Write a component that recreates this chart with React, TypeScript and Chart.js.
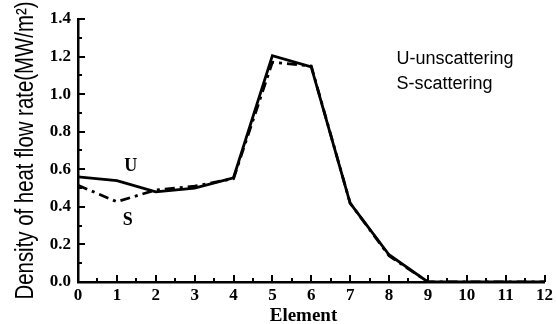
import React, { useEffect, useRef } from "react";
import { Chart, registerables } from "chart.js";

Chart.register(...registerables);

const elements = [0, 1, 2, 3, 4, 5, 6, 7, 8, 9, 10, 11, 12];
const unscattering = [0.56, 0.54, 0.48, 0.50, 0.555, 1.205, 1.145, 0.42, 0.145, 0.0, 0.0, 0.0, 0.0];
const scattering = [0.515, 0.427, 0.49, 0.51, 0.55, 1.17, 1.15, 0.42, 0.14, 0.0, 0.0, 0.0, 0.0];
const yTicks = [0, 0.2, 0.4, 0.6, 0.8, 1.0, 1.2, 1.4];
const xTitle = "Element";
const yTitle = "Density of heat flow rate(MW/m²)";
const legendLines = ["U-unscattering", "S-scattering"];
const curveLabels = ["U", "S"];

const tickPlugin = {
  id: "innerTicks",
  afterDraw(chart: any) {
    const ctx = chart.ctx;
    const xs = chart.scales.x;
    const ys = chart.scales.y;
    const area = chart.chartArea;
    ctx.save();
    ctx.setLineDash([]);
    ctx.lineDashOffset = 0;
    ctx.globalAlpha = 1;
    ctx.strokeStyle = "#000000";
    ctx.lineWidth = 2;
    ctx.lineCap = "butt";
    for (let i = 0; i <= 24; i++) {
      const v = i * 0.5;
      const px = Math.round(xs.getPixelForValue(v));
      const len = i % 2 === 0 ? 7 : 4;
      ctx.beginPath();
      ctx.moveTo(px, area.bottom);
      ctx.lineTo(px, area.bottom - len);
      ctx.stroke();
    }
    for (let i = 0; i <= 14; i++) {
      const v = i * 0.1;
      const py = Math.round(ys.getPixelForValue(v));
      const len = i % 2 === 0 ? 7 : 4;
      ctx.beginPath();
      ctx.moveTo(area.left, py);
      ctx.lineTo(area.left + len, py);
      ctx.stroke();
    }
    ctx.fillStyle = "#000";
    ctx.font = "bold 18px 'Liberation Serif'";
    ctx.textAlign = "center";
    ctx.textBaseline = "middle";
    ctx.fillText(curveLabels[0], xs.getPixelForValue(1.356), ys.getPixelForValue(0.614));
    ctx.fillText(curveLabels[1], xs.getPixelForValue(1.28), ys.getPixelForValue(0.33));
    ctx.font = "18px 'Liberation Sans'";
    ctx.textAlign = "left";
    ctx.textBaseline = "alphabetic";
    ctx.fillText(legendLines[0], xs.getPixelForValue(8.19), ys.getPixelForValue(1.16));
    ctx.fillText(legendLines[1], xs.getPixelForValue(8.19), ys.getPixelForValue(1.027));
    ctx.font = "bold 19px 'Liberation Serif'";
    ctx.textAlign = "center";
    ctx.textBaseline = "middle";
    ctx.fillText(xTitle, xs.getPixelForValue(5.8), area.bottom + 34);
    ctx.font = "25px 'Liberation Sans Narrow', 'Liberation Sans'";
    const w = ctx.measureText(yTitle).width;
    const target = 298;
    ctx.translate(33, (area.top + area.bottom) / 2);
    ctx.rotate(-Math.PI / 2);
    ctx.scale(target / w, 1);
    ctx.textAlign = "center";
    ctx.textBaseline = "alphabetic";
    ctx.fillText(yTitle, 0, 0);
    ctx.restore();
  },
};

export default function App() {
  const ref = useRef<HTMLCanvasElement>(null);
  useEffect(() => {
    document.body.style.margin = "0";
    if (!ref.current) return;
    const chart = new Chart(ref.current, {
      type: "line",
      data: {
        datasets: [
          {
            label: "S",
            data: elements.map((x, i) => ({ x, y: scattering[i] })),
            borderColor: "#000",
            borderWidth: 2.8,
            borderDash: [10, 5, 3, 5],
            pointRadius: 0,
            tension: 0,
          },
          {
            label: "U",
            data: elements.map((x, i) => ({ x, y: unscattering[i] })),
            borderColor: "#000",
            borderWidth: 2.8,
            pointRadius: 0,
            tension: 0,
          },
        ],
      },
      options: {
        animation: false,
        responsive: false,
        layout: { padding: { top: 19, right: 9, left: 0, bottom: 0 } },
        plugins: { legend: { display: false }, tooltip: { enabled: false } },
        scales: {
          x: {
            type: "linear",
            min: 0,
            max: 12,
            border: { display: true, color: "#000", width: 2.5 },
            grid: { display: false, drawTicks: false, tickLength: 0 },
            ticks: {
              stepSize: 1,
              color: "#000",
              padding: 3,
              maxRotation: 0,
              font: { family: "'Liberation Serif'", weight: "bold", size: 17 },
            },
            afterFit: (s: any) => {
              s.height = 42;
            },
          },
          y: {
            type: "linear",
            min: 0,
            max: 1.4,
            afterBuildTicks: (s: any) => {
              s.ticks = yTicks.map((v) => ({ value: v }));
            },
            border: { display: true, color: "#000", width: 2.5 },
            grid: { display: false, drawTicks: false, tickLength: 0 },
            ticks: {
              color: "#000",
              padding: 7,
              callback: (v: any) => Number(v).toFixed(1),
              font: { family: "'Liberation Serif'", weight: "bold", size: 17 },
            },
            afterFit: (s: any) => {
              s.width = 78;
            },
          },
        },
      },
      plugins: [tickPlugin],
    });
    return () => chart.destroy();
  }, []);
  return (
    <div style={{ width: 556, height: 324 }}>
      <canvas ref={ref} width={556} height={324} style={{ display: "block" }} />
    </div>
  );
}
